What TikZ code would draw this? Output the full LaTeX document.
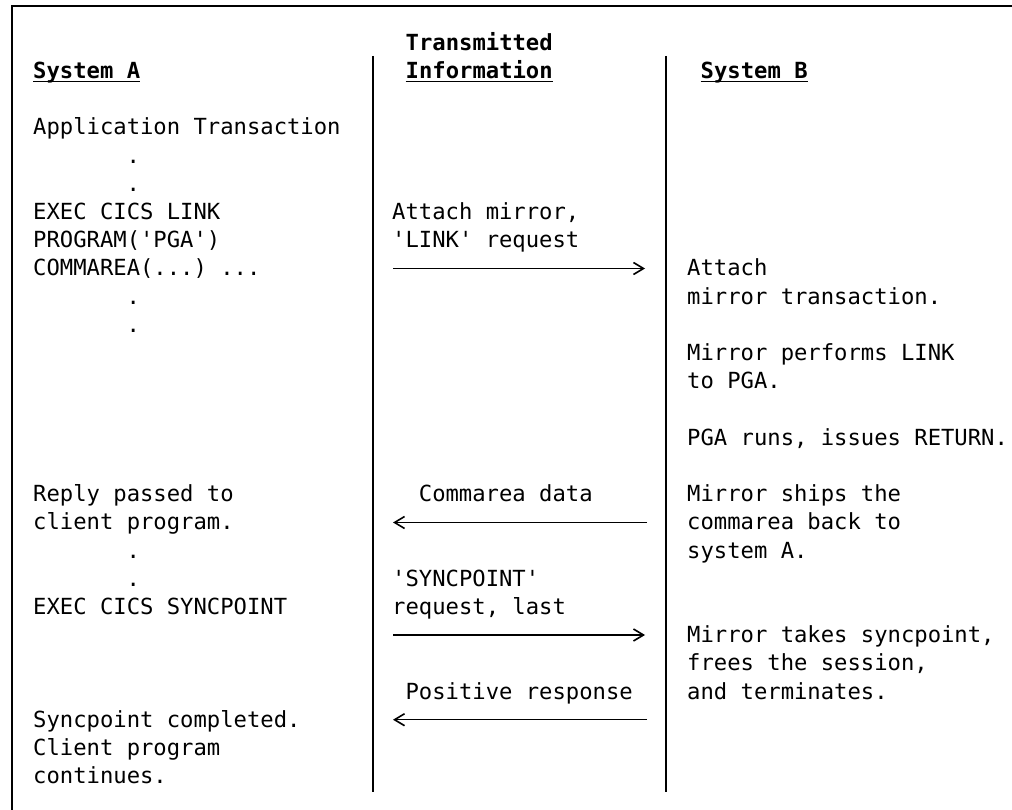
\documentclass[tikz,border=0pt]{standalone}
\usepackage{fontspec}
\setmonofont{DejaVu Sans Mono}
\usetikzlibrary{arrows.meta}
\begin{document}
\begin{tikzpicture}[x=1pt,y=-1pt,
  txt/.style={anchor=base west, inner sep=0pt, font=\ttfamily\fontsize{22.2}{28}\selectfont},
  hdr/.style={anchor=base west, inner sep=0pt, font=\ttfamily\bfseries\fontsize{22.2}{28}\selectfont},
  uline/.style={line width=1.5pt},
  sepline/.style={line width=1.8pt},
  frameline/.style={line width=1.8pt},
  msg/.style={line width=1.4pt, -{Straight Barb[length=10pt,width=12pt,line width=1.6pt]}}]
\useasboundingbox (0,0) rectangle (1012,810);
% frame (top and left edges visible)
\coordinate (fbl) at (12,812);
\coordinate (ftl) at (12,6);
\coordinate (ftr) at (1014,6);
\draw[frameline] (fbl) -- (ftl) -- (ftr);
% column separators
\coordinate (s1t) at (373,56);
\coordinate (s1b) at (373,792);
\coordinate (s2t) at (666,56);
\coordinate (s2b) at (666,792);
\draw[sepline] (s1t) -- (s1b);
\draw[sepline] (s2t) -- (s2b);
% headers
\node[hdr] (hA) at (33,78.6) {System A};
\node[hdr] (hT1) at (405.5,50.4) {Transmitted};
\node[hdr] (hT2) at (405.5,78.6) {Information};
\node[hdr] (hB) at (700.5,78.6) {System B};
\draw[uline] ([yshift=-2.8pt]hA.base west) -- ([yshift=-2.8pt]hA.base east);
\draw[uline] ([yshift=-2.8pt]hT2.base west) -- ([yshift=-2.8pt]hT2.base east);
\draw[uline] ([yshift=-2.8pt]hB.base west) -- ([yshift=-2.8pt]hB.base east);
% System A column
\node[txt] (a0) at (33,135) {Application Transaction};
\node[txt] (a1) at (126.5,163.2) {.};
\node[txt] (a2) at (126.5,191.4) {.};
\node[txt] (a3) at (33,219.6) {EXEC CICS LINK};
\node[txt] (a4) at (33,247.8) {PROGRAM('PGA')};
\node[txt] (a5) at (33,276) {COMMAREA(...) ...};
\node[txt] (a6) at (126.5,304.2) {.};
\node[txt] (a7) at (126.5,332.4) {.};
\node[txt] (a13) at (33,501.6) {Reply passed to};
\node[txt] (a14) at (33,529.8) {client program.};
\node[txt] (a15) at (126.5,558) {.};
\node[txt] (a16) at (126.5,586.2) {.};
\node[txt] (a17) at (33,614.4) {EXEC CICS SYNCPOINT};
\node[txt] (a21) at (33,727.2) {Syncpoint completed.};
\node[txt] (a22) at (33,755.4) {Client program};
\node[txt] (a23) at (33,783.6) {continues.};
% Transmitted information column
\node[txt] (t3) at (392,219.6) {Attach mirror,};
\node[txt] (t4) at (392,247.8) {'LINK' request};
\node[txt] (t13) at (418.7,501.6) {Commarea data};
\node[txt] (t16) at (392,586.2) {'SYNCPOINT'};
\node[txt] (t17) at (392,614.4) {request, last};
\node[txt] (t20) at (405.4,699) {Positive response};
% System B column
\node[txt] (b5) at (687,276) {Attach};
\node[txt] (b6) at (687,304.2) {mirror transaction.};
\node[txt] (b8) at (687,360.6) {Mirror performs LINK};
\node[txt] (b9) at (687,388.8) {to PGA.};
\node[txt] (b11) at (687,445.2) {PGA runs, issues RETURN.};
\node[txt] (b13) at (687,501.6) {Mirror ships the};
\node[txt] (b14) at (687,529.8) {commarea back to};
\node[txt] (b15) at (687,558) {system A.};
\node[txt] (b18) at (687,642.6) {Mirror takes syncpoint,};
\node[txt] (b19) at (687,670.8) {frees the session,};
\node[txt] (b20) at (687,699) {and terminates.};
% messages
\coordinate (m1s) at (393,268.5);
\coordinate (m1e) at (645,268.5);
\coordinate (m2s) at (647,522.5);
\coordinate (m2e) at (393,522.5);
\coordinate (m3s) at (393,635);
\coordinate (m3e) at (645,635);
\coordinate (m4s) at (647,719.7);
\coordinate (m4e) at (393,719.7);
\draw[msg] (m1s) -- (m1e);
\draw[msg] (m2s) -- (m2e);
\draw[msg] (m3s) -- (m3e);
\draw[msg] (m4s) -- (m4e);
\end{tikzpicture}
\end{document}
